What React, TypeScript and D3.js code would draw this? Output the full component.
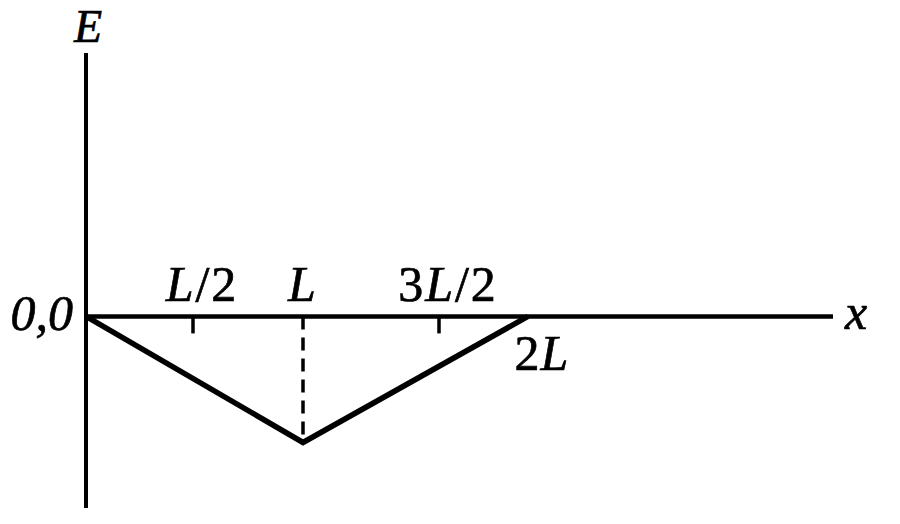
import React from "react";
import * as d3 from "d3";

const xStops = [0, 0.5, 1, 1.5, 2];
const xMax = 3.72;
const tickValues = [0.5, 1.5];
const topLabels = [
  { v: 0.5, parts: [["L", true], ["/", false], ["2", false]] },
  { v: 1, parts: [["L", true]] },
  { v: 1.5, parts: [["3", false], ["L", true], ["/", false], ["2", false]] },
];
const points = [
  { x: 0, e: 0 },
  { x: 1, e: -1 },
  { x: 2, e: 0 },
];
const eMin = -1.52;
const eMax = 2.09;

export default function App() {
  const W = 900, H = 524;
  const x = d3.scaleLinear().domain([...xStops, xMax]).range([86, 193, 303, 439, 528, 833]);
  const y = d3.scaleLinear().domain([eMin, eMax]).range([508, 53]);
  const line = d3.line<{ x: number; e: number }>().x(d => x(d.x)).y(d => y(d.e));
  const font = "'Liberation Serif', 'DejaVu Serif', serif";
  const fs = 50;
  const ts = { stroke: "#000", strokeWidth: 0.7 };
  return (
    <svg width={W} height={H} style={{ position: "absolute", left: 0, top: 0, background: "#fff" }} fontFamily={font}>
      <rect width={W} height={H} fill="#fff" />
      <line x1={x(0)} x2={x(0)} y1={y(eMax)} y2={y(eMin)} stroke="#000" strokeWidth={4} />
      <line x1={x(0)} x2={x(xMax)} y1={y(0)} y2={y(0)} stroke="#000" strokeWidth={4.5} />
      {tickValues.map(v => (
        <line key={v} x1={x(v)} x2={x(v)} y1={y(0)} y2={y(0) + 17} stroke="#000" strokeWidth={3.5} />
      ))}
      <line x1={x(1)} x2={x(1)} y1={y(0)} y2={y(-1)} stroke="#000" strokeWidth={3.5} strokeDasharray="13,8" />
      <path d={line(points) || ""} fill="none" stroke="#000" strokeWidth={5.5} strokeLinejoin="miter" />
      {topLabels.map(l => (
        <text key={l.v} x={x(l.v) + (l.v === 1 ? 0 : 9)} y={y(0) - 15} fontSize={fs} textAnchor="middle" letterSpacing={2} {...ts}>
          {l.parts.map((p, i) => (
            <tspan key={i} fontStyle={p[1] ? "italic" : "normal"}>{p[0] as string}</tspan>
          ))}
        </text>
      ))}
      <text x={x(2) + 14} y={y(0) + 54} fontSize={fs} textAnchor="middle" letterSpacing={1} {...ts}>
        <tspan>2</tspan><tspan fontStyle="italic">L</tspan>
      </text>
      <text x={x(0) - 13} y={y(0) + 14} fontSize={fs} textAnchor="end" fontStyle="italic" {...ts}>0,0</text>
      <text x={x(0) + 2} y={y(eMax) - 11} fontSize={fs - 4} textAnchor="middle" fontStyle="italic" {...ts}>E</text>
      <text x={x(xMax) + 12} y={y(0) + 13} fontSize={fs} textAnchor="start" fontStyle="italic" {...ts}>x</text>
    </svg>
  );
}
